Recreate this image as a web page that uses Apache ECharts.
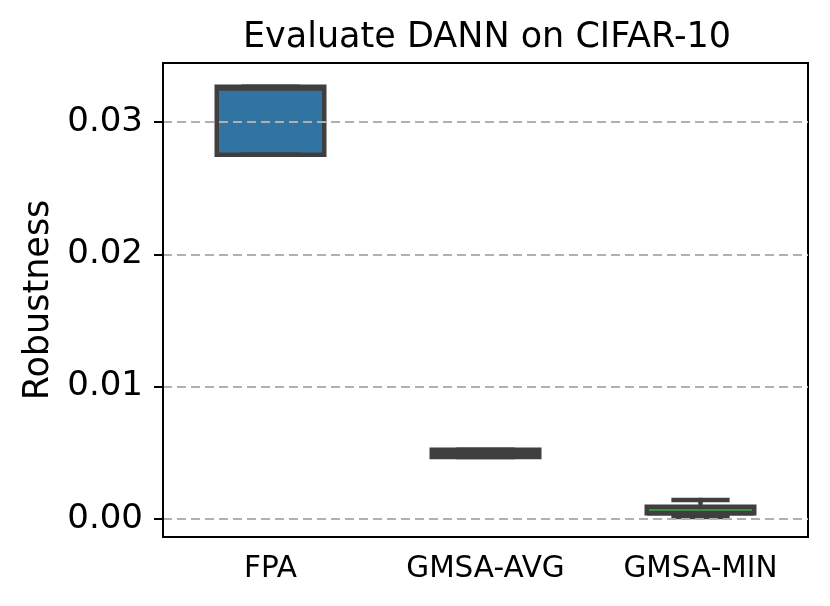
<!DOCTYPE html>
<html>
<head>
<meta charset="utf-8">
<script src="https://cdn.jsdelivr.net/npm/echarts@6/dist/echarts.min.js"></script>
<style>
  html, body { margin: 0; padding: 0; background: #fff; }
  #chart { width: 830px; height: 606px; }
</style>
</head>
<body>
<div id="chart"></div>
<script>
const categories = ['FPA', 'GMSA-AVG', 'GMSA-MIN'];
// five-number summaries: [min, q1, median, q3, max]
const fpa = [0.02754, 0.02754, 0.03255, 0.03268, 0.03268];
const gmsaAvg = [0.00467, 0.00467, 0.00495, 0.00523, 0.00523];
const gmsaMin = [0.00014, 0.00042, 0.00042, 0.00091, 0.00142];
const yTicks = [0, 0.01, 0.02, 0.03];

const boxColors = ['#3274a1', '#e1812c', '#3a923a'];
const edge = '#3f3f3f';
const font = 'DejaVu Sans';
const lw = 4.5;

const chart = echarts.init(document.getElementById('chart'));

// seaborn-like box: fill + dark edge, whiskers, half-width caps, median
function renderBox(params, api) {
  const x = api.value(0);
  const band = api.size([1, 0])[0];
  const half = band * 0.25;
  const capHalf = band * 0.125;
  const pMin = api.coord([x, api.value(1)]);
  const pQ1 = api.coord([x, api.value(2)]);
  const pMed = api.coord([x, api.value(3)]);
  const pQ3 = api.coord([x, api.value(4)]);
  const pMax = api.coord([x, api.value(5)]);
  const cx = pQ1[0];
  const stroke = { stroke: edge, lineWidth: lw, lineCap: 'square' };
  return {
    type: 'group',
    children: [
      {
        type: 'rect',
        shape: { x: cx - half, y: pQ3[1], width: half * 2, height: pQ1[1] - pQ3[1] },
        style: { fill: boxColors[params.dataIndex], stroke: edge, lineWidth: lw }
      },
      { type: 'line', shape: { x1: cx, y1: pQ1[1], x2: cx, y2: pMin[1] }, style: stroke },
      { type: 'line', shape: { x1: cx, y1: pQ3[1], x2: cx, y2: pMax[1] }, style: stroke },
      { type: 'line', shape: { x1: cx - capHalf, y1: pMin[1], x2: cx + capHalf, y2: pMin[1] }, style: stroke },
      { type: 'line', shape: { x1: cx - capHalf, y1: pMax[1], x2: cx + capHalf, y2: pMax[1] }, style: stroke },
      { type: 'line', shape: { x1: cx - half, y1: pMed[1], x2: cx + half, y2: pMed[1] }, style: { stroke: edge, lineWidth: lw } }
    ]
  };
}

const option = {
  animation: false,
  title: {
    text: 'Evaluate DANN on CIFAR-10',
    left: 482,
    top: 15,
    textAlign: 'center',
    textStyle: { fontFamily: font, fontSize: 35, fontWeight: 'normal', color: '#000' }
  },
  grid: {
    left: 163, right: 22, top: 63, bottom: 69,
    show: true, borderColor: '#000', borderWidth: 2
  },
  xAxis: {
    type: 'category',
    data: categories,
    axisLine: { onZero: false, lineStyle: { color: '#000', width: 2 } },
    axisTick: { alignWithLabel: true, length: 9, lineStyle: { color: '#000', width: 2 } },
    axisLabel: { fontFamily: font, fontSize: 29.5, color: '#000', margin: 17 },
    splitLine: { show: false }
  },
  yAxis: {
    type: 'value',
    min: -0.00137,
    max: 0.03447,
    name: 'Robustness',
    nameLocation: 'middle',
    nameGap: 106,
    nameTextStyle: { fontFamily: font, fontSize: 35, color: '#000' },
    axisLine: { show: true, lineStyle: { color: '#000', width: 2 } },
    axisTick: { show: true, length: 9, customValues: yTicks, lineStyle: { color: '#000', width: 2 } },
    axisLabel: {
      fontFamily: font, fontSize: 34, color: '#000', margin: 20,
      customValues: yTicks,
      formatter: v => v.toFixed(2)
    },
    splitLine: {
      show: true,
      lineStyle: { color: '#b0b0b0', width: 2.2, type: [9, 5] }
    }
  },
  series: [
    {
      type: 'custom',
      z: -1,
      renderItem: renderBox,
      encode: { x: 0, y: [1, 2, 3, 4, 5] },
      data: [
        [0, ...fpa],
        [1, ...gmsaAvg],
        [2, ...gmsaMin]
      ]
    }
  ]
};

chart.setOption(option);
</script>
</body>
</html>
